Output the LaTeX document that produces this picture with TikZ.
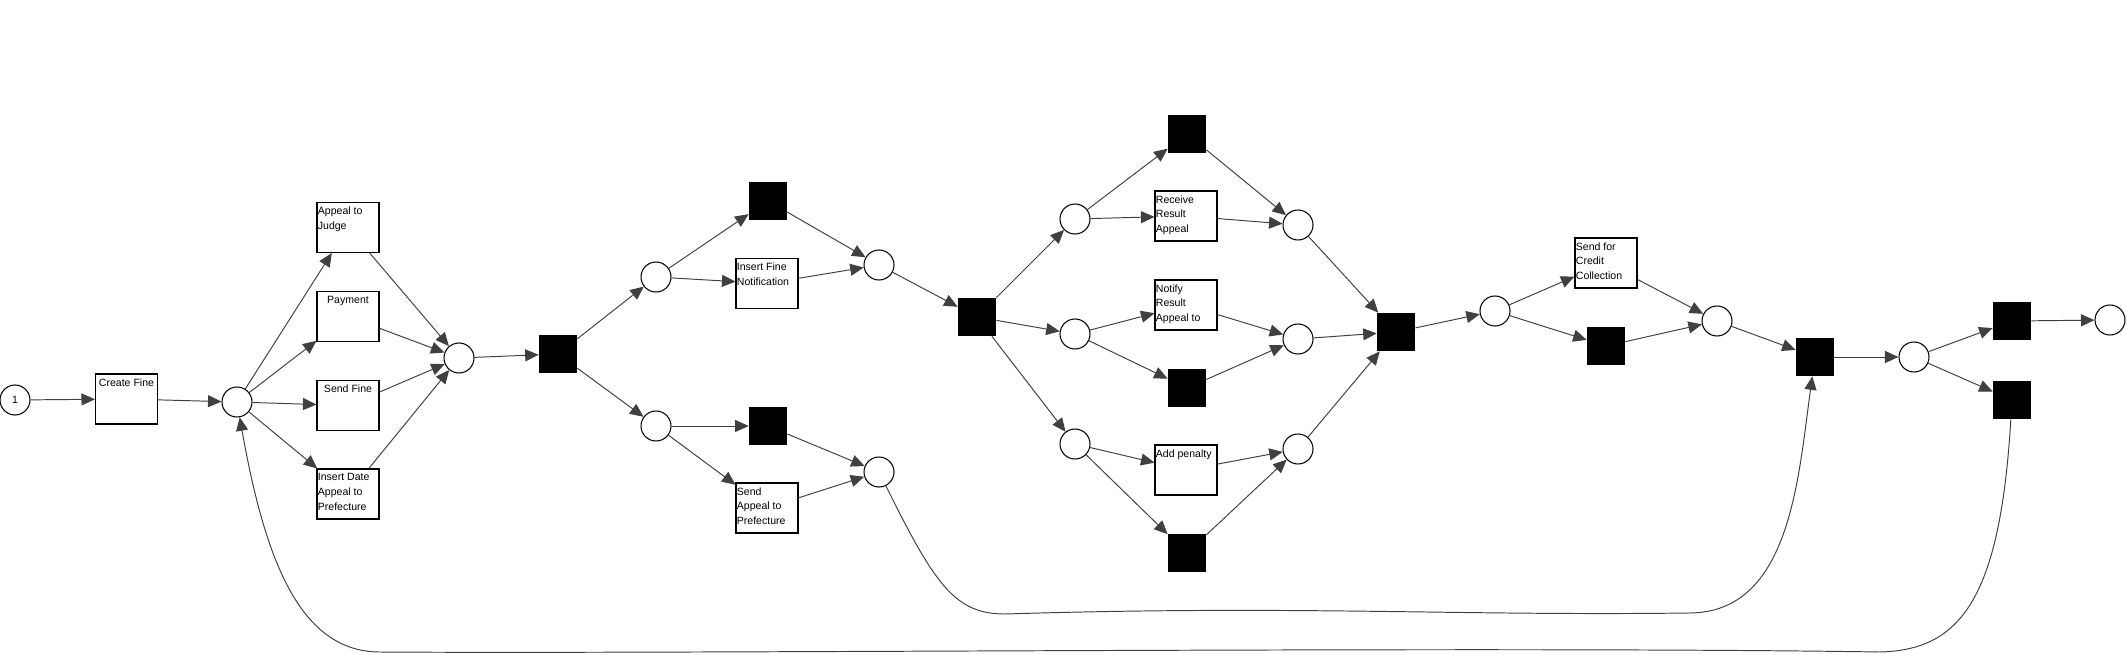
\documentclass[tikz,border=0pt]{standalone}
\usepackage{fontspec}
\setmainfont{Liberation Sans}
\usetikzlibrary{arrows.meta}
\newcommand\tfont{\fontsize{6}{8.5}\selectfont}

\begin{document}
\begin{tikzpicture}[x=0.02cm, y=-0.02cm,
    place/.style={circle, draw, minimum size=0.6cm, inner sep=0pt, line width=0.6pt},
    silent/.style={fill=black, minimum size=0.76cm, inner sep=0pt},
    task/.style={draw, minimum width=1.24cm, minimum height=1cm, inner sep=0pt, line width=0.6pt},
    tl/.style={font=\tfont, inner sep=0pt, anchor=north west, align=left, xshift=0.6pt, yshift=-2.6pt},
    tc/.style={font=\tfont, inner sep=0pt, anchor=north, yshift=-2.6pt},
    flow/.style={->, draw=black!75, line width=0.55pt},
    >={Triangle[length=0.27cm, width=0.24cm]}]
  \useasboundingbox (0,0) rectangle (2127,655);
  % start
  \node[place, font=\tfont] (p0) at (15,400) {1};
  \node[task, label={[tc]north:Create Fine}] (create) at (126.5,399) {};
  \node[place] (p1) at (237,402) {};
  \node[task, label={[tl]north west:{Appeal to\\Judge}}] (judge) at (348,227.5) {};
  \node[task, label={[tc]north:Payment}] (pay) at (348,316.5) {};
  \node[task, label={[tc]north:Send Fine}] (send) at (348,405.5) {};
  \node[task, label={[tl]north west:{Insert Date\\Appeal to\\Prefecture}}] (date) at (348,494) {};
  \node[place] (p2) at (459,358) {};
  \node[silent] (t1) at (558,354) {};
  % notification / appeal
  \node[place] (p3) at (656,277) {};
  \node[place] (p4) at (656,426) {};
  \node[silent] (t2) at (768,201) {};
  \node[task, label={[tl]north west:{Insert Fine\\Notification}}] (notif) at (767,283.5) {};
  \node[silent] (t3) at (768,426) {};
  \node[task, label={[tl]north west:{Send\\Appeal to\\Prefecture}}] (appeal) at (767,508) {};
  \node[place] (p5) at (879,265) {};
  \node[place] (p6) at (879,472) {};
  \node[silent] (t4) at (977,317) {};
  % result of the appeal
  \node[place] (p7) at (1075,219) {};
  \node[place] (p8) at (1075,334) {};
  \node[place] (p9) at (1075,444) {};
  \node[silent] (t5) at (1187,134) {};
  \node[task, label={[tl]north west:{Receive\\Result\\Appeal}}] (receive) at (1186,216) {};
  \node[task, label={[tl]north west:{Notify\\Result\\Appeal to}}] (notify) at (1186,305) {};
  \node[silent] (t6) at (1187,388) {};
  \node[task, label={[tl]north west:Add penalty}] (penalty) at (1186,470) {};
  \node[silent] (t7) at (1187,553) {};
  \node[place] (p10) at (1298,225) {};
  \node[place] (p11) at (1298,339) {};
  \node[place] (p12) at (1298,449) {};
  \node[silent] (t8) at (1396,332) {};
  % credit collection and end
  \node[place] (p13) at (1495,311) {};
  \node[task, label={[tl]north west:{Send for\\Credit\\Collection}}] (credit) at (1606,263) {};
  \node[silent] (t9) at (1606,346) {};
  \node[place] (p14) at (1717,321) {};
  \node[silent] (t10) at (1815,357) {};
  \node[place] (p15) at (1914,357) {};
  \node[silent] (t11) at (2012,321) {};
  \node[silent] (t12) at (2012,400) {};
  \node[place] (pend) at (2110,320) {};

  \draw[flow] (p0) -- (create);
  \draw[flow] (create) -- (p1);
  \draw[flow] (p1) -- (judge);
  \draw[flow] (p1) -- (pay);
  \draw[flow] (p1) -- (send);
  \draw[flow] (p1) -- (date);
  \draw[flow] (judge) -- (p2);
  \draw[flow] (pay) -- (p2);
  \draw[flow] (send) -- (p2);
  \draw[flow] (date) -- (p2);
  \draw[flow] (p2) -- (t1);
  \draw[flow] (t1) -- (p3);
  \draw[flow] (t1) -- (p4);
  \draw[flow] (p3) -- (t2);
  \draw[flow] (p3) -- (notif);
  \draw[flow] (p4) -- (t3);
  \draw[flow] (p4) -- (appeal);
  \draw[flow] (t2) -- (p5);
  \draw[flow] (notif) -- (p5);
  \draw[flow] (t3) -- (p6);
  \draw[flow] (appeal) -- (p6);
  \draw[flow] (p5) -- (t4);
  \draw[flow] (t4) -- (p7);
  \draw[flow] (t4) -- (p8);
  \draw[flow] (t4) -- (p9);
  \draw[flow] (p7) -- (t5);
  \draw[flow] (p7) -- (receive);
  \draw[flow] (p8) -- (notify);
  \draw[flow] (p8) -- (t6);
  \draw[flow] (p9) -- (penalty);
  \draw[flow] (p9) -- (t7);
  \draw[flow] (t5) -- (p10);
  \draw[flow] (receive) -- (p10);
  \draw[flow] (notify) -- (p11);
  \draw[flow] (t6) -- (p11);
  \draw[flow] (penalty) -- (p12);
  \draw[flow] (t7) -- (p12);
  \draw[flow] (p10) -- (t8);
  \draw[flow] (p11) -- (t8);
  \draw[flow] (p12) -- (t8);
  \draw[flow] (t8) -- (p13);
  \draw[flow] (p13) -- (credit);
  \draw[flow] (p13) -- (t9);
  \draw[flow] (credit) -- (p14);
  \draw[flow] (t9) -- (p14);
  \draw[flow] (p14) -- (t10);
  \draw[flow] (t10) -- (p15);
  \draw[flow] (p15) -- (t11);
  \draw[flow] (p15) -- (t12);
  \draw[flow] (t11) -- (pend);
  % long loops below
  \draw[flow] (p6) .. controls (935,585) and (955,614) .. (1005,614)
    .. controls (1300,605) and (1450,616) .. (1690,613)
    .. controls (1790,612) and (1798,480) .. (t10);
  \draw[flow] (t12) .. controls (2000,600) and (1960,650) .. (1880,652)
    .. controls (1500,646) and (700,654) .. (380,652)
    .. controls (300,652) and (265,560) .. (p1);
\end{tikzpicture}
\end{document}
